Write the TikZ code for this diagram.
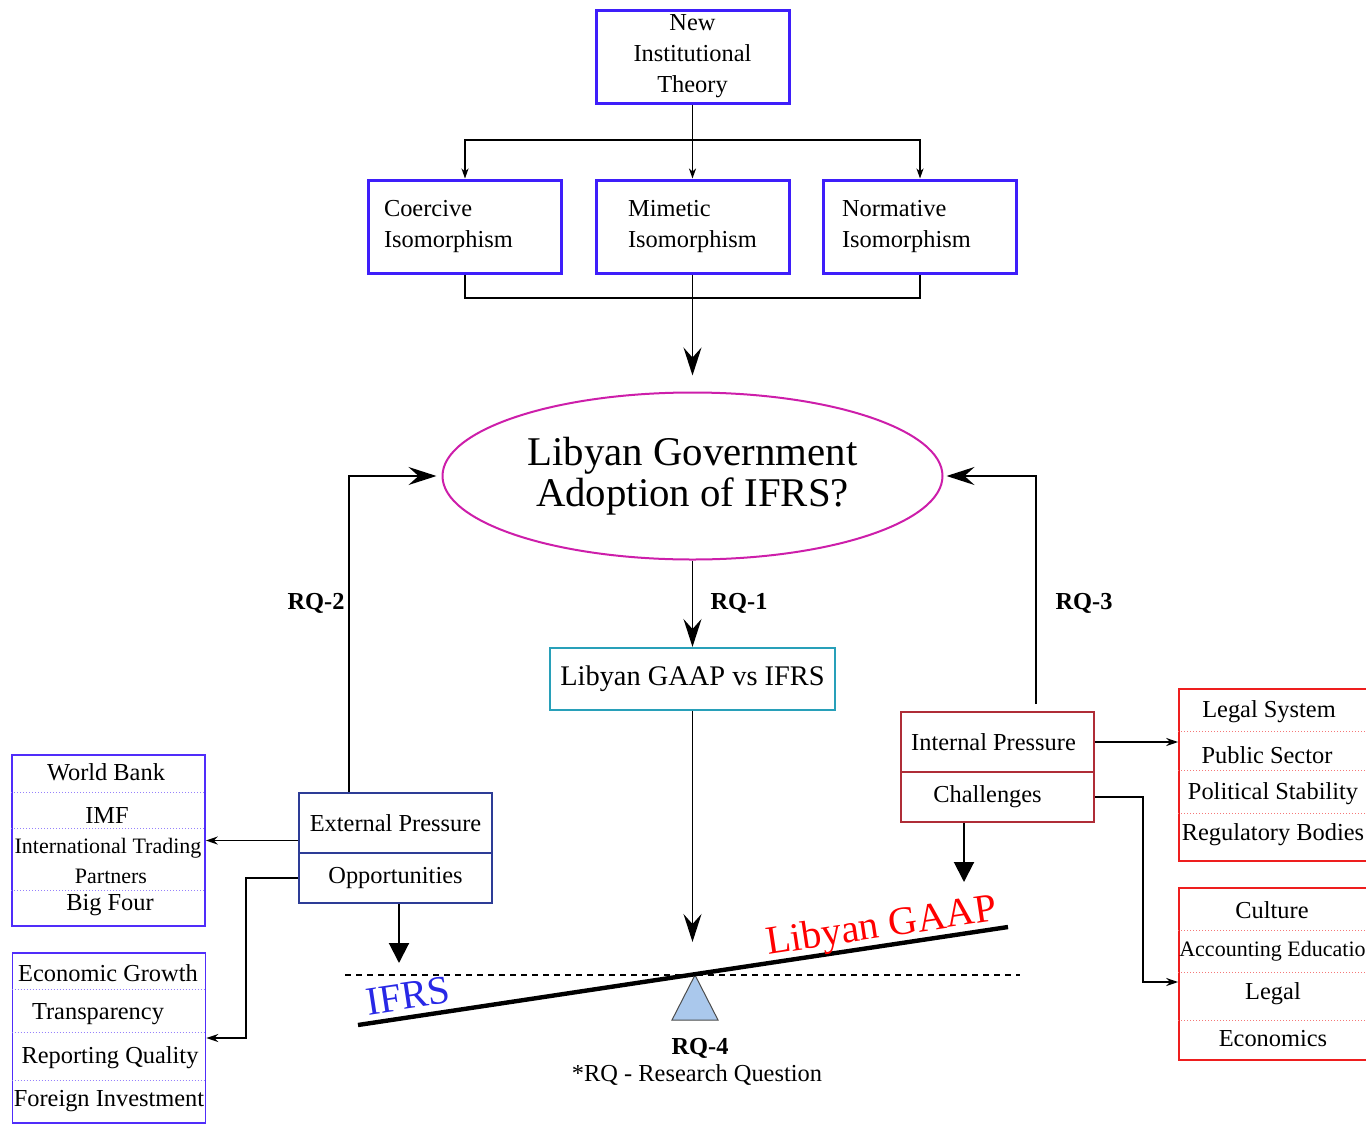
\documentclass[tikz,border=0pt]{standalone}
\usepackage{fontspec}
\setmainfont{Liberation Serif}
\usetikzlibrary{positioning, calc, arrows.meta, shapes.geometric}
\definecolor{theoryblue}{RGB}{62,30,250}
\definecolor{govmagenta}{RGB}{205,30,170}
\definecolor{gaapteal}{RGB}{40,160,185}
\definecolor{extblue}{RGB}{45,60,150}
\definecolor{intred}{RGB}{175,45,55}
\definecolor{listblue}{RGB}{80,45,250}
\definecolor{listred}{RGB}{238,30,30}
\definecolor{ifrsblue}{RGB}{40,40,230}
\definecolor{fulcrumblue}{RGB}{170,200,236}
\newcommand{\itemsize}{\fontsize{12.2}{15.5}\selectfont}
\newcommand{\smallitem}{\fontsize{11}{13}\selectfont}
\tikzset{
  theorybox/.style={draw=theoryblue, line width=1.5pt, minimum width=96.5pt, minimum height=46.5pt, inner sep=0pt, align=center},
  pressurebox/.style={draw=#1, line width=0.9pt, minimum width=96.5pt, inner sep=0pt},
  listbox/.style={draw=#1, line width=0.8pt, minimum width=96.5pt, minimum height=86pt, inner sep=0pt},
  listsep/.style={draw=#1!60, line width=0.5pt, densely dotted},
  bigarrow/.style={line width=0.8pt, -{Stealth[length=14pt,width=9pt,inset=5pt]}},
  smallarrow/.style={line width=0.8pt, -{Stealth[length=6pt,width=4pt,inset=2pt]}},
  toparrow/.style={line width=0.8pt, -{Stealth[length=5pt,width=3.5pt,inset=1.5pt]}},
  loadarrow/.style={line width=1pt, -{Triangle[length=10pt,width=10pt]}},
  rqlabel/.style={font=\itemsize\bfseries},
}

\begin{document}
\begin{tikzpicture}[x=0.5pt, y=-0.5pt, font=\itemsize]
    \useasboundingbox (0,0) rectangle (1366,1125);
    % theory and isomorphisms
    \node[theorybox] (theory) at (692.5,56.5) {New\\Institutional\\Theory};
    \node[theorybox, align=left, text width=81pt] (coer) at (465,226.5) {Coercive\\Isomorphism};
    \node[theorybox, align=left] (mim) at (692.5,226.5) {Mimetic\\Isomorphism};
    \node[theorybox, align=left, text width=78pt] (norm) at (920,226.5) {Normative\\Isomorphism};
    \coordinate (topbus) at (692.5,140);
    \coordinate (botbus) at (692.5,298);
    \draw[toparrow] (theory.south) -- (mim.north);
    \draw[toparrow] (theory.south |- topbus) -| (coer.north);
    \draw[toparrow] (theory.south |- topbus) -| (norm.north);
    \draw[line width=0.8pt] (coer.south) |- (botbus) -| (norm.south);

    % central question
    \node[ellipse, draw=govmagenta, line width=1pt, minimum width=250pt, minimum height=83.5pt, inner sep=0pt, align=center, font=\fontsize{20.4}{21.5}\selectfont] (gov) at (692.5,476) {Libyan Government\\[-1pt]Adoption of IFRS?};
    \draw[bigarrow, shorten >=8pt] (mim.south) -- (gov.north);
    \node[draw=gaapteal, line width=1pt, minimum width=142.5pt, minimum height=31pt, inner sep=0pt, font=\fontsize{14.2}{17}\selectfont] (gaap) at (692.5,679) {Libyan GAAP vs IFRS};
    \draw[bigarrow] (gov.south) -- (gaap.north);
    \node[rqlabel] (rq1) at (739,603) {RQ-1};

    % pressures
    \node[pressurebox=extblue, minimum height=30pt] (extp) at (395.5,823) {External Pressure};
    \node[pressurebox=extblue, minimum height=25pt] (opp) at (395.5,878) {Opportunities};
    \node[pressurebox=intred, minimum height=30pt] (intp) at (997.5,742) {\hspace*{-4pt}Internal Pressure};
    \node[pressurebox=intred, minimum height=25pt] (chal) at (997.5,797) {\hspace*{-10pt}Challenges};
    \draw[bigarrow, shorten >=2.5pt] ([xshift=25.5pt]extp.north west) |- (gov.west);
    \node[rqlabel] (rq2) at (316,603) {RQ-2};
    \draw[bigarrow, shorten <=3.5pt, shorten >=1.5pt] ([xshift=68pt]intp.north west) |- (gov.east);
    \node[rqlabel] (rq3) at (1084,603) {RQ-3};

    % external lists
    \node[listbox=listblue, minimum height=85.5pt] (donors) at (108.5,840.5) {};
    \node (wb) at (106,772) {World Bank};
    \node (imf) at (107,816) {IMF};
    \node[font=\smallitem] (itp) at (108,848) {International Trading};
    \node[font=\smallitem] (itp2) at (111,876) {Partners};
    \node (big4) at (110,905) {Big Four};
    \draw[listsep=listblue] (donors.west |- 0,792) -- (donors.east |- 0,792);
    \draw[listsep=listblue] (donors.west |- 0,828) -- (donors.east |- 0,828);
    \draw[listsep=listblue] (donors.west |- 0,890) -- (donors.east |- 0,890);

    \node[listbox=listblue, minimum height=85pt] (benefits) at (109,1038) {};
    \node (ecg) at (108,973) {Economic Growth};
    \node (trp) at (98,1014) {Transparency};
    \node (rpq) at (110,1058) {Reporting Quality};
    \node (fdi) at (109,1101) {Foreign Investment};
    \draw[listsep=listblue] (benefits.west |- 0,989) -- (benefits.east |- 0,989);
    \draw[listsep=listblue] (benefits.west |- 0,1032) -- (benefits.east |- 0,1032);
    \draw[listsep=listblue] (benefits.west |- 0,1080) -- (benefits.east |- 0,1080);

    % internal lists
    \node[listbox=listred] (factors) at (1275.5,775) {};
    \node (lgs) at (1269,712) {Legal System};
    \node (pbs) at (1267,755) {Public Sector};
    \node (pls) at (1273,794) {Political Stability};
    \node (rgb) at (1273,835) {Regulatory Bodies};
    \draw[listsep=listred] (factors.west |- 0,731) -- (factors.east |- 0,731);
    \draw[listsep=listred] (factors.west |- 0,770) -- (factors.east |- 0,770);
    \draw[listsep=listred] (factors.west |- 0,813) -- (factors.east |- 0,813);

    \node[listbox=listred] (barriers) at (1275.5,974) {};
    \node (cul) at (1272,910) {Culture};
    \node[font=\smallitem] (ace) at (1278,951) {Accounting Education};
    \node (lgl) at (1273,994) {Legal};
    \node (eco) at (1273,1039) {Economics};
    \draw[listsep=listred] (barriers.west |- 0,930) -- (barriers.east |- 0,930);
    \draw[listsep=listred] (barriers.west |- 0,972) -- (barriers.east |- 0,972);
    \draw[listsep=listred] (barriers.west |- 0,1020) -- (barriers.east |- 0,1020);

    \draw[smallarrow] (extp.west |- donors.east) -- (donors.east);
    \draw[smallarrow] (opp.west) -- ++(-52,0) |- (benefits.east);
    \draw[smallarrow] (intp.east) -- (intp.east -| factors.west);
    \draw[smallarrow] (chal.east) -- ++(48,0) |- ([yshift=-4pt]barriers.west);

    % balance
    \coordinate (pivot) at (695,975);
    \coordinate (ifrsload) at (399,963);
    \coordinate (gaapload) at (964,882);
    \draw[dash pattern=on 3pt off 2.5pt, line width=0.6pt] (345,975) -- (1020,975);
    \draw[fill=fulcrumblue, draw=black!70, line width=0.5pt] (pivot) -- (672,1020) -- (718,1020) -- cycle;
    \draw[line width=2.2pt] (358,1025) -- (1008,927);
    \node[rotate=8.6, text=ifrsblue, font=\fontsize{20}{24}\selectfont] (ifrslbl) at (408,996) {IFRS};
    \node[rotate=8.6, text=red, font=\fontsize{20}{24}\selectfont] (gaaplbl) at (882,928) {Libyan GAAP};
    \draw[bigarrow, shorten >=16.5pt] (gaap.south) -- (gaap.south |- pivot);
    \draw[loadarrow] (opp.south -| ifrsload) -- (ifrsload);
    \draw[loadarrow] (chal.south -| gaapload) -- (gaapload);
    \node[rqlabel] (rq4) at (700,1048) {RQ-4};
    \node (rqnote) at (697,1075) {*RQ - Research Question};
\end{tikzpicture}
\end{document}
